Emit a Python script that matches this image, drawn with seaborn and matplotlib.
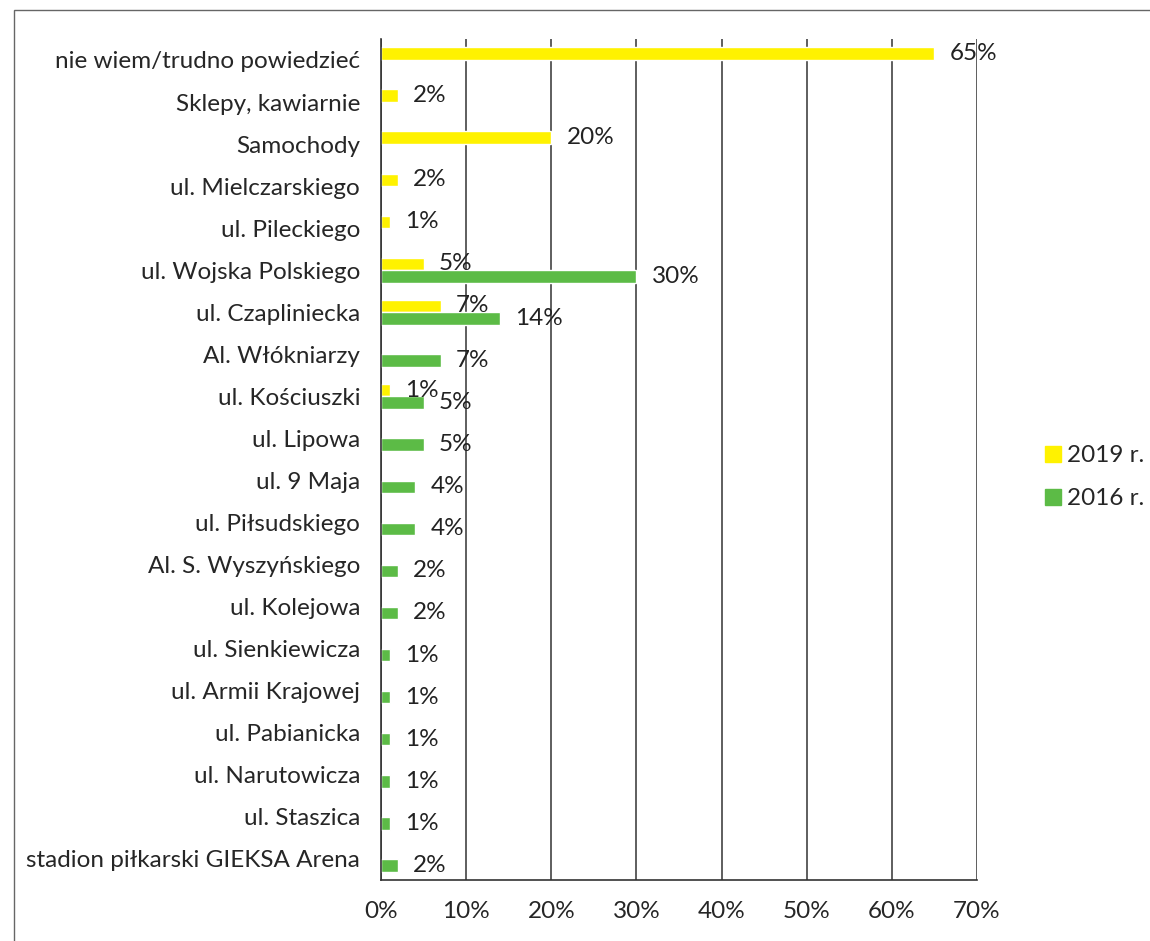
"""
Horizontal grouped bar chart: 2019 vs 2016 answers per street/place
"""

import numpy as np
import pandas as pd
import matplotlib.pyplot as plt
import seaborn as sns
from matplotlib.patches import Rectangle
from matplotlib.lines import Line2D

sns.set_style("white")
plt.rcParams['font.family'] = ['Lato', 'DejaVu Sans']

# Data (percent)
categories = [
    "nie wiem/trudno powiedzieć", "Sklepy, kawiarnie", "Samochody",
    "ul. Mielczarskiego", "ul. Pileckiego", "ul. Wojska Polskiego",
    "ul. Czapliniecka", "Al. Włókniarzy", "ul. Kościuszki", "ul. Lipowa",
    "ul. 9 Maja", "ul. Piłsudskiego", "Al. S. Wyszyńskiego", "ul. Kolejowa",
    "ul. Sienkiewicza", "ul. Armii Krajowej", "ul. Pabianicka",
    "ul. Narutowicza", "ul. Staszica", "stadion piłkarski GIEKSA Arena",
]
values_2019 = [65, 2, 20, 2, 1, 5, 7, np.nan, 1, np.nan,
               np.nan, np.nan, np.nan, np.nan, np.nan, np.nan, np.nan,
               np.nan, np.nan, np.nan]
values_2016 = [np.nan, np.nan, np.nan, np.nan, np.nan, 30, 14, 7, 5, 5,
               4, 4, 2, 2, 1, 1, 1, 1, 1, 2]
series = ["2019 r.", "2016 r."]
colors = ["#FFF200", "#5CBB46"]
xticks = [0, 10, 20, 30, 40, 50, 60, 70]

df = pd.concat([
    pd.DataFrame({"kategoria": categories, "rok": series[0], "procent": values_2019}),
    pd.DataFrame({"kategoria": categories, "rok": series[1], "procent": values_2016}),
]).dropna()

FS = 17.5

fig = plt.figure(figsize=(11.5, 9.41), dpi=100)
ax = fig.add_axes([0.3313, 0.0648, 0.5183, 0.8938])

sns.barplot(data=df, y="kategoria", x="procent", hue="rok", order=categories,
            hue_order=series, palette=colors, orient="h", width=0.6,
            dodge=True, saturation=1, ax=ax, legend=False)

for cont in ax.containers:
    ax.bar_label(cont, labels=[f"{v:.0f}%" for v in cont.datavalues],
                 padding=11, fontsize=FS, color="#222222")

ax.set_xlim(0, 70)
ax.set_ylim(len(categories) - 0.5, -0.5)
ax.set_xticks(xticks)
ax.set_xticklabels([f"{t}%" for t in xticks], fontsize=FS)
ax.set_yticks(range(len(categories)))
ax.set_yticklabels(categories, fontsize=FS)
ax.tick_params(axis="y", length=0, pad=15)
ax.set_yticks(np.arange(-0.5, len(categories), 1), minor=True)
ax.tick_params(axis="y", which="minor", length=6, direction="out", color="#333333")
ax.tick_params(axis="x", length=7, direction="out", color="#333333", pad=8)
ax.set_xlabel("")
ax.set_ylabel("")

ax.grid(axis="x", color="#333333", linewidth=1.1)
ax.set_axisbelow(True)
sns.despine(ax=ax, top=True, right=True)
for s in ["left", "bottom"]:
    ax.spines[s].set_color("#333333")
    ax.spines[s].set_linewidth(1.2)

# legend on the right
handles = [Line2D([], [], marker="s", linestyle="", markersize=11,
                  markerfacecolor=c, markeredgecolor=c) for c in colors]
fig.legend(handles, series, loc="upper left", bbox_to_anchor=(0.888, 0.55),
           frameon=False, fontsize=FS, handletextpad=0.2, labelspacing=0.9,
           handlelength=0.8)

# outer chart frame
fig.patches.append(Rectangle((0.012, -0.01), 1.0, 0.999, transform=fig.transFigure,
                             fill=False, edgecolor="#666666", linewidth=1.0))

fig.savefig("out.png", dpi=100)
